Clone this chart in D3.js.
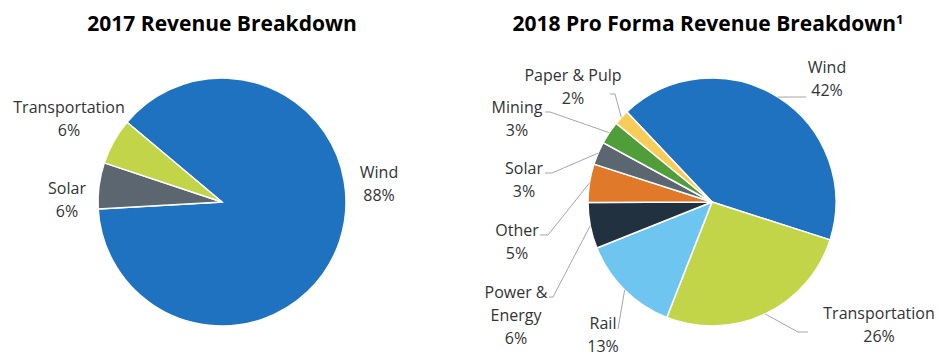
<!DOCTYPE html>
<html>
<head>
<meta charset="utf-8">
<script src="https://cdn.jsdelivr.net/npm/d3@7"></script>
<style>
  body { margin: 0; background: #fff; }
  svg { display: block; font-family: "Open Sans", sans-serif; }
  .title { font-weight: bold; font-size: 21px; fill: #000; }
  .lbl { font-size: 16px; fill: #333; }
  .lead { fill: none; stroke: #a6a6a6; stroke-width: 1; }
</style>
</head>
<body>
<div id="chart"></div>
<script>
// 2017 breakdown (clockwise from wind)
const cats2017 = ['Wind', 'Solar', 'Transportation'];
const vals2017 = [88, 6, 6];

// 2018 pro forma breakdown (clockwise from wind)
const cats2018 = ['Wind', 'Transportation', 'Rail', 'Power & Energy', 'Other', 'Solar', 'Mining', 'Paper & Pulp'];
const vals2018 = [42, 26, 13, 6, 5, 3, 3, 2];

const colors = {
  'Wind': '#1f72bf',
  'Transportation': '#c2d548',
  'Rail': '#6ec6f0',
  'Power & Energy': '#223140',
  'Other': '#e07a2a',
  'Solar': '#5c6670',
  'Mining': '#4f9e3a',
  'Paper & Pulp': '#f8cc58'
};

const width = 938, height = 358;
const radius = 124;

const svg = d3.select('#chart').append('svg')
    .attr('width', width)
    .attr('height', height);

// label placement, relative to pie centre: [x, first baseline], lines
const layout2017 = {
  'Wind': { at: [157, -24], lines: ['Wind'] },
  'Solar': { at: [-155, -8], lines: ['Solar'] },
  'Transportation': { at: [-153, -89], lines: ['Transportation'] }
};

// leader: start point and elbow, relative to centre; line then runs to slice edge
const layout2018 = {
  'Wind': { at: [115, -129], lines: ['Wind'], lead: [[94, -105], [88, -105]] },
  'Transportation': { at: [167, 117], lines: ['Transportation'], lead: [[96, 130], [86, 130]] },
  'Rail': { at: [-109, 127], lines: ['Rail'], lead: [[-94, 127], [-94, 127]] },
  'Power & Energy': { at: [-196, 96], lines: ['Power &', 'Energy'], lead: [[-163, 95], [-159, 95]] },
  'Other': { at: [-195, 34], lines: ['Other'], lead: [[-172, 33], [-164, 33]] },
  'Solar': { at: [-188, -28], lines: ['Solar'], lead: [[-167, -29], [-160, -29]] },
  'Mining': { at: [-195, -89], lines: ['Mining'], lead: [[-167, -90], [-162, -90]] },
  'Paper & Pulp': { at: [-139, -121], lines: ['Paper & Pulp'], lead: [[-102, -108], [-97, -108]] }
};

const deg = Math.PI / 180;
const arc = d3.arc().innerRadius(0).outerRadius(radius);
const lineH = 23;

function drawPie(opts) {
  const g = svg.append('g')
      .attr('transform', `translate(${opts.cx},${opts.cy})`);

  const pie = d3.pie()
      .sort(null)
      .value(d => d.value)
      .startAngle(opts.start * deg)
      .endAngle(opts.start * deg + 2 * Math.PI);

  const data = opts.cats.map((c, i) => ({ name: c, value: opts.vals[i] }));
  const arcs = pie(data);

  g.selectAll('path.slice')
      .data(arcs)
      .enter()
      .append('path')
      .attr('class', 'slice')
      .attr('d', arc)
      .attr('fill', d => colors[d.data.name])
      .attr('stroke', '#fff')
      .attr('stroke-width', 1.5);

  // leader lines
  arcs.forEach(a => {
    const lay = opts.layout[a.data.name];
    if (!lay.lead) return;
    const mid = (a.startAngle + a.endAngle) / 2;
    const edge = [Math.sin(mid) * radius, -Math.cos(mid) * radius];
    g.append('path')
        .attr('class', 'lead')
        .attr('d', d3.line()([lay.lead[0], lay.lead[1], edge]));
  });

  // labels
  arcs.forEach(a => {
    const lay = opts.layout[a.data.name];
    const t = g.append('text')
        .attr('class', 'lbl')
        .attr('text-anchor', 'middle');
    const lines = lay.lines.concat([a.data.value + '%']);
    lines.forEach((s, i) => {
      t.append('tspan')
          .attr('x', lay.at[0])
          .attr('y', lay.at[1] + i * lineH)
          .text(s);
    });
  });

  const title = svg.append('text')
      .attr('class', 'title')
      .attr('x', opts.titleX)
      .attr('y', 31)
      .attr('text-anchor', 'middle')
      .text(opts.title);
  if (opts.sup) {
    title.append('tspan')
        .attr('dy', -7)
        .style('font-size', '13px')
        .text(opts.sup);
  }
}

drawPie({
  cx: 222, cy: 202, start: -50,
  cats: cats2017, vals: vals2017,
  layout: layout2017,
  title: '2017 Revenue Breakdown', titleX: 222
});

drawPie({
  cx: 712, cy: 202, start: -43.4,
  cats: cats2018, vals: vals2018,
  layout: layout2018,
  title: '2018 Pro Forma Revenue Breakdown', sup: '1', titleX: 708
});
</script>
</body>
</html>
